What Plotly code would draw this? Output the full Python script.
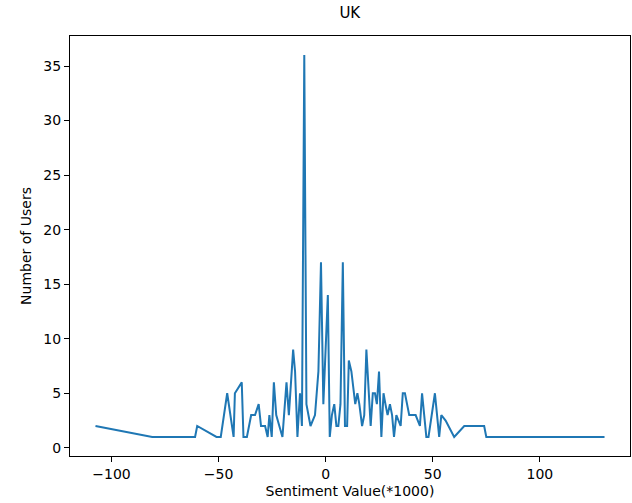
import plotly.graph_objects as go

sentiment = [-107.5, -81, -61, -60, -51, -49, -46, -43, -42.4, -39.2, -38.4, -36.8, -34.8, -33, -31.3,
             -30.2, -28.3, -27.1, -26.3, -25.2, -24.2, -23.1, -20.2, -18.3, -17.2, -15.2, -14.3, -13.2,
             -12, -11.1, -10, -9, -7.1, -5, -3.4, -2.2, -1.1, 1, 1.9, 2.9, 4, 5, 5.9, 6.9, 8, 9, 10,
             10.8, 12, 13.8, 14.8, 15.7, 17, 18, 19, 21, 22, 23, 23.9, 24.9, 26, 27, 27.9, 28.9, 30,
             31, 31.9, 33, 35, 36, 37, 39, 42, 44, 45, 47, 48, 51, 53, 54, 56, 60, 64.7, 74, 75, 130.2]
users = [2, 1, 1, 2, 1, 1, 5, 1, 5, 6, 1, 1, 3, 3, 4,
         2, 2, 1, 3, 1, 6, 3, 1, 6, 3, 9, 7, 1,
         5, 2, 36, 4, 2, 3, 7, 17, 4, 14, 1, 3, 4, 2, 2, 4, 17, 2, 2,
         8, 7, 4, 5, 4, 2, 3, 9, 2, 5, 5, 4, 7, 1, 5, 4, 3, 4,
         3, 1, 3, 2, 5, 5, 3, 3, 2, 5, 1, 1, 5, 1, 3, 2.5, 1, 2, 2, 1, 1]

x_ticks = [-100, -50, 0, 50, 100]
y_ticks = [0, 5, 10, 15, 20, 25, 30, 35]

fig = go.Figure(go.Scatter(x=sentiment, y=users, mode="lines",
                           line=dict(color="#1f77b4", width=2)))

font = dict(family="DejaVu Sans", size=14, color="black")
axis_common = dict(showline=True, linecolor="black", linewidth=1, mirror=True,
                   ticks="outside", ticklen=5, tickcolor="black", showgrid=False,
                   zeroline=False, tickfont=font)

fig.update_layout(
    width=632, height=503,
    margin=dict(l=70, r=2, t=36, b=47),
    paper_bgcolor="white", plot_bgcolor="white",
    showlegend=False,
    font=font,
    title=dict(text="UK", x=0.5535, xanchor="center",
               y=1 - 13 / 503, yanchor="middle", font=dict(family="DejaVu Sans", size=15)),
    xaxis=dict(range=[-119.4, 142.1], tickvals=x_ticks, **axis_common,
               title=dict(text="Sentiment Value(*1000)", font=font, standoff=5)),
    yaxis=dict(range=[-0.75, 37.75], tickvals=y_ticks, **axis_common,
               title=dict(text="Number of Users", font=font, standoff=8)),
)

fig.write_html("out.html")
